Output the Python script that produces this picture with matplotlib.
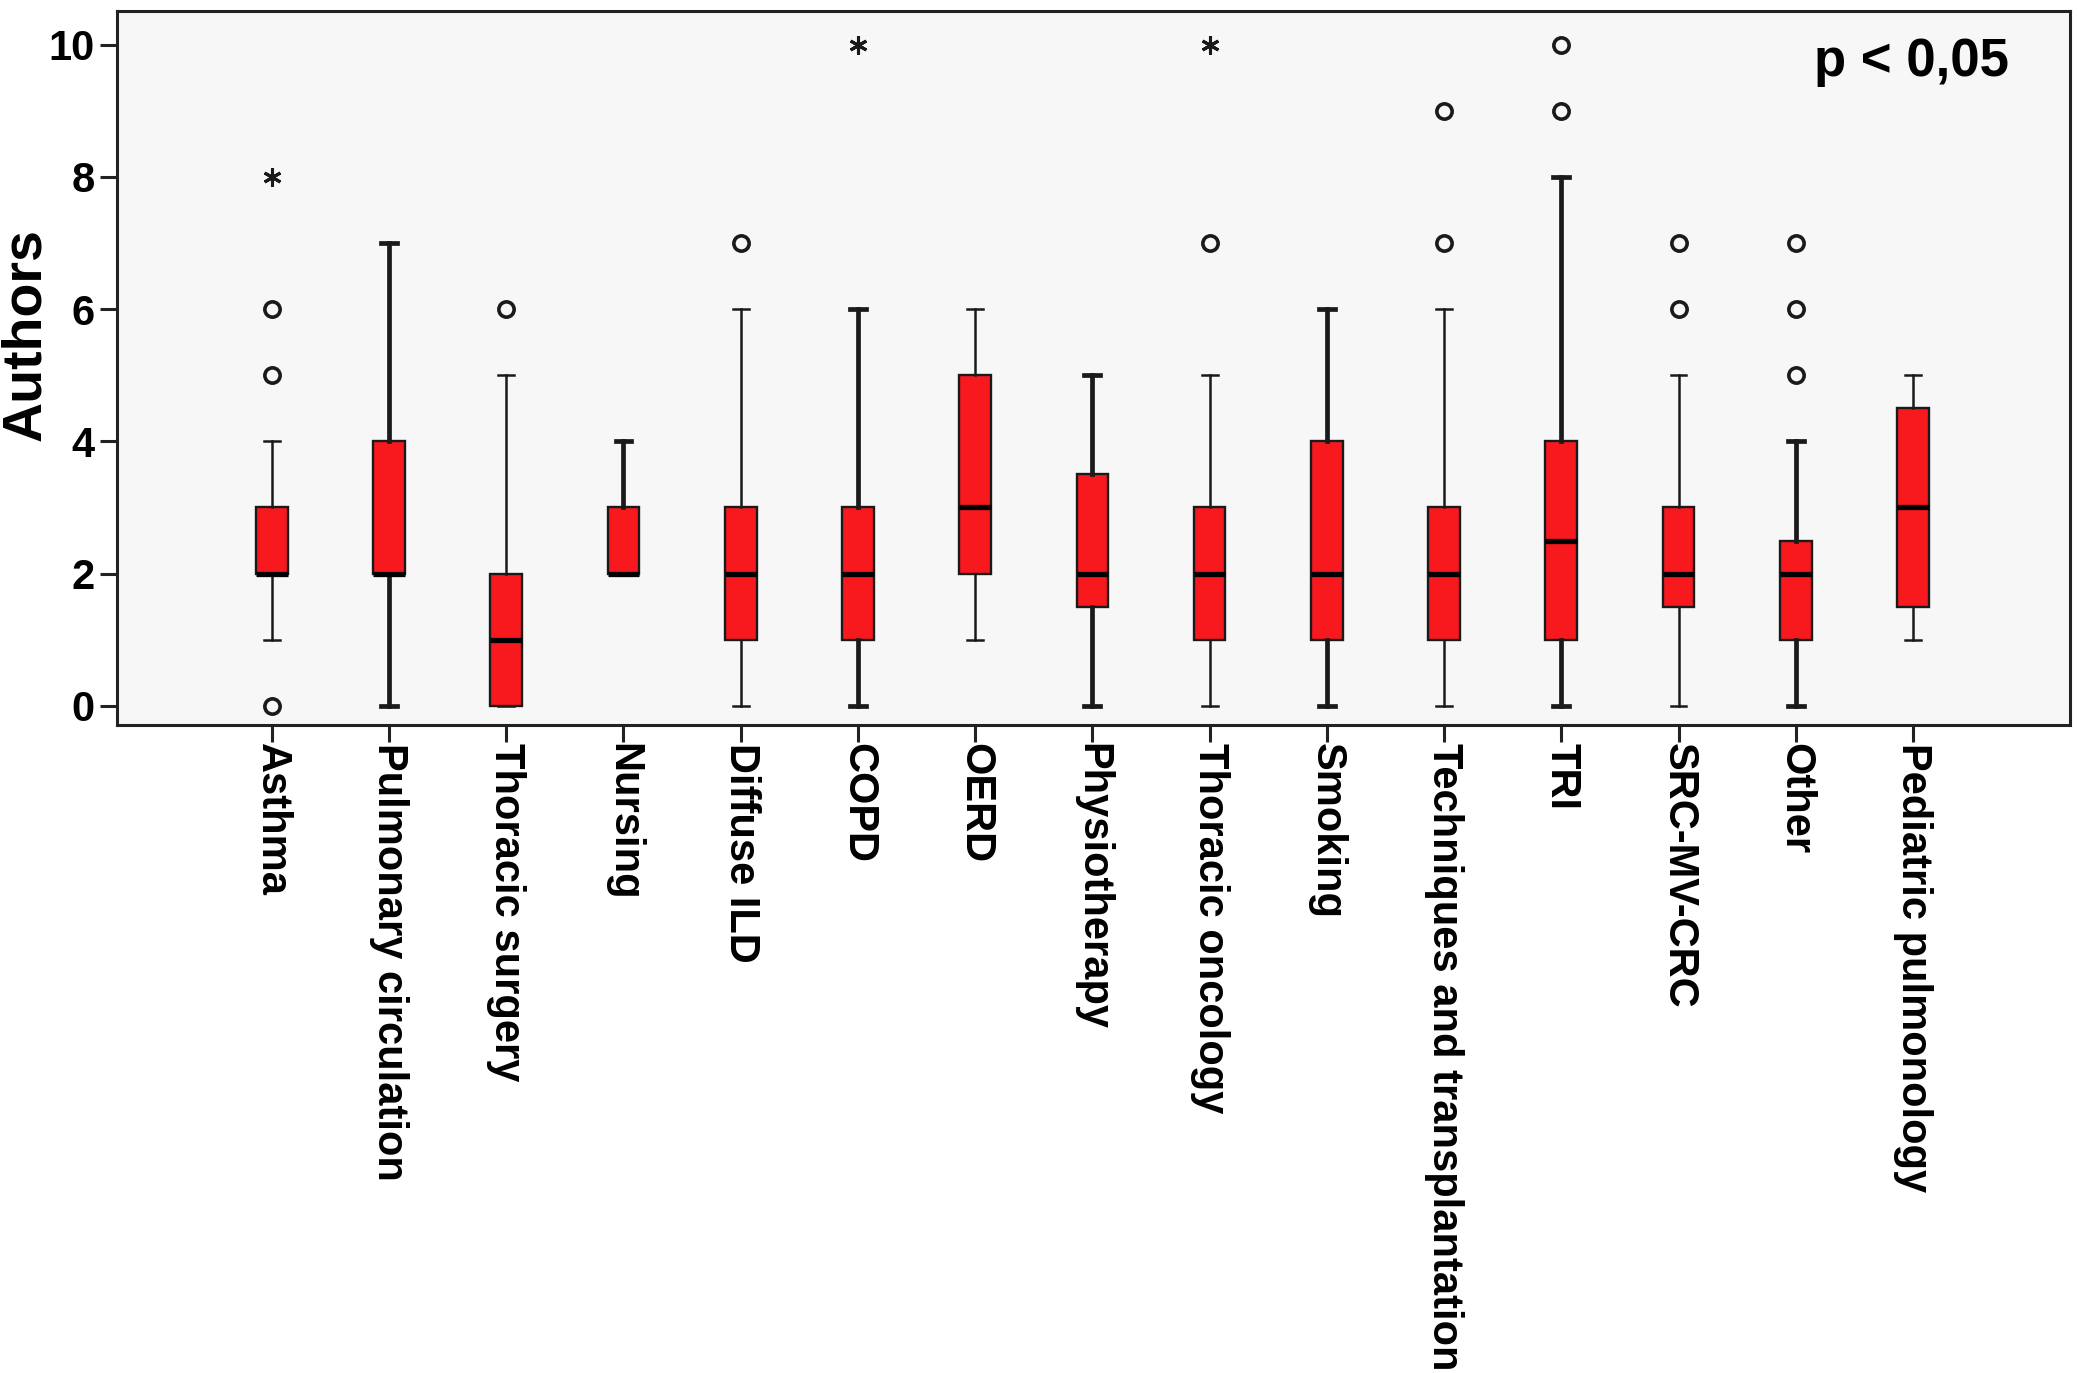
import matplotlib
matplotlib.use("Agg")

import matplotlib.pyplot as plt
import numpy as np

# box plot summaries
categories = ["Asthma", "Pulmonary circulation", "Thoracic surgery", "Nursing",
              "Diffuse ILD", "COPD", "OERD", "Physiotherapy", "Thoracic oncology",
              "Smoking", "Techniques and transplantation", "TRI", "SRC-MV-CRC",
              "Other", "Pediatric pulmonology"]
whisker_low = [1, 0, 0, 2, 0, 0, 1, 0, 0, 0, 0, 0, 0, 0, 1]
q1 = [2, 2, 0, 2, 1, 1, 2, 1.5, 1, 1, 1, 1, 1.5, 1, 1.5]
median = [2, 2, 1, 2, 2, 2, 3, 2, 2, 2, 2, 2.5, 2, 2, 3]
q3 = [3, 4, 2, 3, 3, 3, 5, 3.5, 3, 4, 3, 4, 3, 2.5, 4.5]
whisker_high = [4, 7, 5, 4, 6, 6, 6, 5, 5, 6, 6, 8, 5, 4, 5]
outliers = [[0, 5, 6], [], [6], [], [7], [], [], [], [7], [], [7, 9], [9, 10],
            [6, 7], [5, 6, 7], []]
extremes = [[8], [], [], [], [], [10], [], [], [10], [], [], [], [], [], []]
y_ticks = [0, 2, 4, 6, 8, 10]

# whiskers that were drawn heavier in the original
thick = {"Pulmonary circulation", "Nursing", "COPD", "Physiotherapy",
         "Smoking", "TRI", "Other"}

plt.rcParams['font.family'] = ['Liberation Sans', 'DejaVu Sans']
plt.rcParams['font.weight'] = 'bold'

fig = plt.figure(figsize=(20.79, 13.73), dpi=100)
ax = fig.add_axes([0.0563, 0.472, 0.9957 - 0.0563, 0.992 - 0.472])
ax.set_facecolor('#f7f7f7')

stats = []
for i, name in enumerate(categories):
    stats.append(dict(label=name, whislo=whisker_low[i], q1=q1[i], med=median[i],
                      q3=q3[i], whishi=whisker_high[i], fliers=outliers[i]))

pos = np.arange(1, len(categories) + 1)
bp = ax.bxp(stats, positions=pos, widths=0.27, capwidths=0.135,
            patch_artist=True, showfliers=True,
            boxprops=dict(facecolor='#f8191f', edgecolor='#1a1a1a', linewidth=1.7),
            medianprops=dict(color='black', linewidth=3.8, solid_capstyle='butt'),
            whiskerprops=dict(color='#1a1a1a', linewidth=1.8),
            capprops=dict(color='#1a1a1a', linewidth=1.8),
            flierprops=dict(marker='o', markersize=11, markerfacecolor='none',
                            markeredgecolor='#1a1a1a', markeredgewidth=2.6))

for i, name in enumerate(categories):
    if name in thick:
        for ln in bp['whiskers'][2 * i:2 * i + 2] + bp['caps'][2 * i:2 * i + 2]:
            ln.set_linewidth(3.4)

# extreme values drawn as asterisks
for i, vals in enumerate(extremes):
    if vals:
        ax.plot([pos[i]] * len(vals), vals, linestyle='none', marker=(6, 2, 0),
                markersize=13, markeredgewidth=2.2, color='#1a1a1a')

ax.set_xlim(-0.32, 16.34)
ax.set_ylim(-0.29, 10.51)
ax.set_yticks(y_ticks)
ax.set_yticklabels([str(t) for t in y_ticks], fontsize=30, fontweight='bold')
ax.set_xticks(pos)
ax.set_xticklabels(categories, rotation=-90, fontsize=30, fontweight='bold',
                   ha='center', va='top')
ax.tick_params(axis='both', length=12, width=2.2, color='#222222', direction='out')
ax.tick_params(axis='y', pad=4)
ax.tick_params(axis='x', pad=1)

for s in ax.spines.values():
    s.set_linewidth(2.2)
    s.set_color('#222222')

ax.text(0.919, 0.928, "p < 0,05", transform=ax.transAxes, fontsize=38,
        fontweight='bold', ha='center', va='center')
fig.text(0.0125, 0.756, "Authors", rotation=90, fontsize=40, fontweight='bold',
         ha='center', va='center')

fig.savefig("out.png", dpi=100, facecolor='white')
